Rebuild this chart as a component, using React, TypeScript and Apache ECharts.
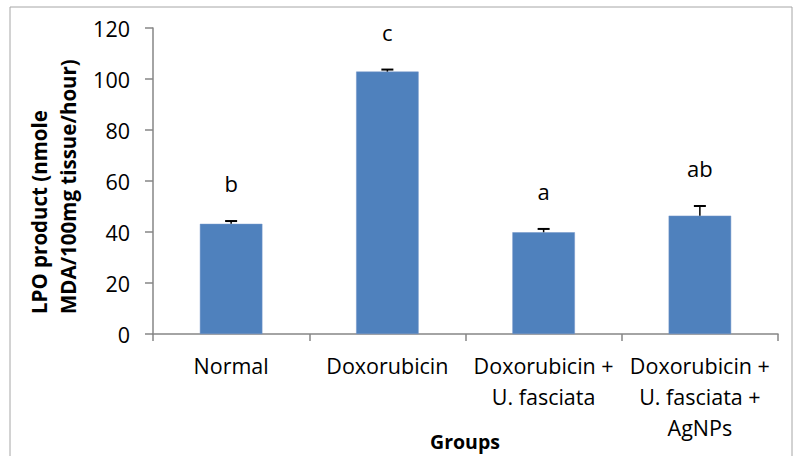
import React, { useEffect, useRef } from "react";
import * as echarts from "echarts";

const categories = [
  "Normal",
  "Doxorubicin",
  "Doxorubicin +\nU. fasciata",
  "Doxorubicin +\nU. fasciata +\nAgNPs",
];
const values = [43.2, 102.9, 39.9, 46.4];
const errors = [1.1, 0.8, 1.3, 3.8];
const letters = ["b", "c", "a", "ab"];
const yTicks = { min: 0, max: 120, interval: 20 };

const FONT = "'Open Sans', Lato, sans-serif";

export default function App() {
  const ref = useRef<HTMLDivElement>(null);
  useEffect(() => {
    if (!ref.current) return;
    const chart = echarts.init(ref.current, undefined, { renderer: "svg" });
    const errData = values.map((v, i) => [i, v, errors[i]]);
    chart.setOption({
      animation: false,
      backgroundColor: "#ffffff",
      textStyle: { fontFamily: FONT },
      grid: { left: 153, right: 17, top: 28, bottom: 122, containLabel: false },
      graphic: [
        {
          type: "rect",
          shape: { x: 10, y: 7, width: 782, height: 470 },
          style: { fill: "none", stroke: "#a6a6a6", lineWidth: 1 },
          silent: true,
        },
        {
          type: "text",
          x: 53,
          y: 314,
          rotation: Math.PI / 2,
          style: {
            text: "LPO product (nmole\nMDA/100mg tissue/hour)",
            font: `bold 20.5px ${FONT}`,
            fill: "#000",
            align: "left",
            verticalAlign: "middle",
            lineHeight: 29,
          },
        },
        {
          type: "text",
          x: 465,
          y: 441,
          style: {
            text: "Groups",
            font: `bold 19.5px ${FONT}`,
            fill: "#000",
            align: "center",
            verticalAlign: "middle",
          },
        },
      ],
      xAxis: {
        type: "category",
        data: categories,
        axisLine: { lineStyle: { color: "#868686", width: 1.5 } },
        axisTick: { show: true, alignWithLabel: false, length: 7, lineStyle: { color: "#868686", width: 1.5 } },
        axisLabel: {
          color: "#000",
          fontSize: 21.5,
          fontFamily: FONT,
          lineHeight: 31,
          margin: 16,
          interval: 0,
        },
      },
      yAxis: {
        type: "value",
        min: yTicks.min,
        max: yTicks.max,
        interval: yTicks.interval,
        splitLine: { show: false },
        axisLine: { show: true, lineStyle: { color: "#868686", width: 1.5 } },
        axisTick: { show: true, length: 8, lineStyle: { color: "#868686", width: 1.5 } },
        axisLabel: { color: "#000", fontSize: 21.5, fontFamily: FONT, margin: 23 },
      },
      series: [
        {
          type: "bar",
          data: values,
          barWidth: "40%",
          itemStyle: { color: "#4f81bd", borderColor: "#7395c8", borderWidth: 0.5 },
        },
        {
          type: "custom",
          data: errData,
          z: 10,
          renderItem: (params: any, api: any) => {
            const i = api.value(0);
            const v = api.value(1);
            const e = api.value(2);
            const base = api.coord([i, v]);
            const top = api.coord([i, v + e]);
            const half = 6;
            const letter = letters[params.dataIndex];
            return {
              type: "group",
              children: [
                {
                  type: "line",
                  shape: { x1: top[0], y1: top[1], x2: base[0], y2: base[1] },
                  style: { stroke: "#000", lineWidth: 1.5 },
                },
                {
                  type: "line",
                  shape: { x1: top[0] - half, y1: top[1], x2: top[0] + half, y2: top[1] },
                  style: { stroke: "#000", lineWidth: 2 },
                },
                {
                  type: "text",
                  x: top[0],
                  y: top[1] - 38,
                  style: {
                    text: letter,
                    font: `22px ${FONT}`,
                    fill: "#000",
                    align: "center",
                    verticalAlign: "middle",
                  },
                },
              ],
            };
          },
        },
      ],
    });
    return () => chart.dispose();
  }, []);
  return (
    <div
      ref={ref}
      style={{ position: "fixed", left: 0, top: 0, width: 795, height: 456 }}
    />
  );
}
